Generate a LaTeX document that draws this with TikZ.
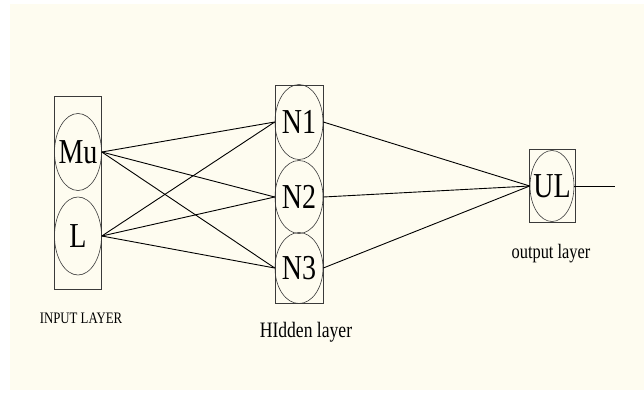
\documentclass[tikz,border=0pt]{standalone}
\usepackage{fontspec}
\usetikzlibrary{shapes.geometric}
\newfontfamily\netfont[FakeStretch=0.8]{Liberation Serif}
\definecolor{paper}{HTML}{FEFCF0}
\definecolor{rim}{HTML}{3A3A3A}
\tikzset{
  layerbox/.style={draw=rim, line width=0.8pt, inner sep=0pt},
  neuron/.style={ellipse, draw=rim, line width=0.6pt, inner sep=0pt,
    minimum width=47pt},
  neurontext/.style={inner sep=0pt, font=\netfont\fontsize{35}{35}\selectfont},
  link/.style={draw=black, line width=0.9pt},
  caption/.style={anchor=base, inner sep=0pt, font=\netfont}
}
\begin{document}
\begin{tikzpicture}[x=1pt, y=-1pt]
  % page and paper
  \fill[white] (0,0) rectangle (644,394);
  \fill[paper] (10,4) rectangle (644,390);
  \useasboundingbox (0,0) rectangle (644,394);

  % layer frames
  \node[layerbox, minimum width=47pt, minimum height=193pt] (inbox) at (77.5,192.5) {};
  \node[layerbox, minimum width=48pt, minimum height=218pt] (hidbox) at (299,194) {};
  \node[layerbox, minimum width=46pt, minimum height=73pt] (outbox) at (552,185.5) {};

  % input neurons
  \node[neuron, minimum height=77pt, label={[neurontext]center:Mu}] (mu) at (78,152) {};
  \node[neuron, minimum height=78pt, label={[neurontext]center:L}] (l) at (78,236) {};

  % hidden neurons
  \node[neuron, minimum width=48pt, minimum height=75pt, label={[neurontext]center:N1}] (n1) at (299,122) {};
  \node[neuron, minimum width=48pt, minimum height=73pt, label={[neurontext]center:N2}] (n2) at (299,197) {};
  \node[neuron, minimum width=48pt, minimum height=71pt, label={[neurontext]center:N3}] (n3) at (299,268) {};

  % output neuron
  \node[neuron, minimum width=44pt, minimum height=71pt, label={[neurontext]center:UL}] (ul) at (552,186) {};
  \coordinate (yout) at (615,186);

  % connections
  \foreach \a in {mu,l}
    \foreach \b in {n1,n2,n3}
      \draw[link] (\a.east) -- (\b.west);
  \foreach \b in {n1,n2,n3}
    \draw[link] (\b.east) -- (ul.west);
  \draw[link] (ul.east) -- (yout);

  % captions
  \node[caption, font=\netfont\fontsize{16}{16}\selectfont] (incap) at (81,323) {INPUT LAYER};
  \node[caption, font=\netfont\fontsize{22}{22}\selectfont] (hidcap) at (306,337) {HIdden layer};
  \node[caption, font=\netfont\fontsize{20.5}{20}\selectfont] (outcap) at (551,258) {output layer};
\end{tikzpicture}
\end{document}
